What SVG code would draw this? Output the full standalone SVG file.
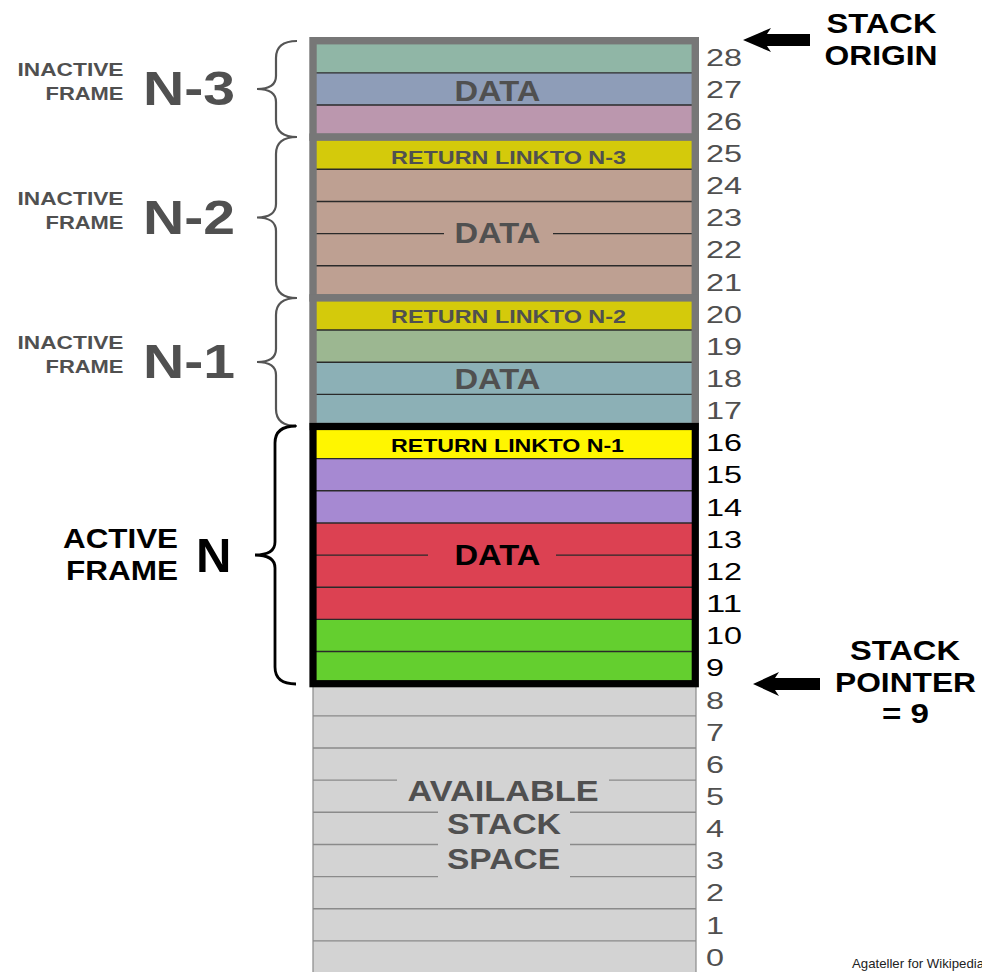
<svg xmlns="http://www.w3.org/2000/svg" width="982" height="972" viewBox="0 0 982 972">
<style>
text{font-family:"Liberation Sans",Arial,Helvetica,sans-serif}
.g{fill:#505050}
.k{fill:#000}
.num{font-size:24px}
.sep{stroke:#2a2a2a;stroke-width:1.4}
.asep{stroke:#8a8a8a;stroke-width:1.4}
.gframe{fill:none;stroke:#777;stroke-width:7.4}
.aframe{fill:none;stroke:#000;stroke-width:7.2}
.brace{fill:none;stroke:#555;stroke-width:2.2}
.abrace{fill:none;stroke:#000;stroke-width:2.8}
.data{font-size:29px;font-weight:bold;text-anchor:middle}
.rl{font-size:19px;font-weight:bold}
.lab{font-size:19px;font-weight:bold;text-anchor:end}
.alab{font-size:27px;font-weight:bold;text-anchor:end}
.big{font-size:48px;font-weight:bold}
.avail{font-size:29px;font-weight:bold;text-anchor:middle}
.side{font-size:28px;font-weight:bold;fill:#000}
.arrow{fill:#000}
</style>

<g id="frame-n3">
<rect x="313" y="40.7" width="382.3" height="32.15" fill="#90b6a6"/>
<rect x="313" y="72.85" width="382.3" height="32.15" fill="#8e9db8"/>
<rect x="313" y="105" width="382.3" height="32.15" fill="#bb97ae"/>
<line class="sep" x1="313" y1="72.85" x2="695" y2="72.85"/>
<line class="sep" x1="313" y1="105" x2="695" y2="105"/>
<text class="data g" x="497.5" y="100.7" textLength="86" lengthAdjust="spacingAndGlyphs">DATA</text>
<rect class="gframe" x="313" y="40.7" width="382.3" height="96.45"/>
<path class="brace" d="M297,41 C284,41 276,46 276,58 L276,76 C276,84 270,89 257,89 C270,89 276,94 276,102 L276,120 C276,132 284,137 297,137"/>
<text class="lab g" x="123.5" y="76" textLength="106" lengthAdjust="spacingAndGlyphs">INACTIVE</text>
<text class="lab g" x="123.5" y="100" textLength="78" lengthAdjust="spacingAndGlyphs">FRAME</text>
<text class="big g" x="143" y="105" textLength="92" lengthAdjust="spacingAndGlyphs">N-3</text>
</g>

<g id="frame-n2">
<rect x="313" y="137.15" width="382.3" height="32.15" fill="#d4ca0b"/>
<rect x="313" y="169.3" width="382.3" height="128.6" fill="#bea092"/>
<line class="sep" x1="313" y1="169.3" x2="695" y2="169.3"/>
<line class="sep" x1="313" y1="201.45" x2="695" y2="201.45"/>
<line class="sep" x1="313" y1="233.6" x2="444" y2="233.6"/>
<line class="sep" x1="553" y1="233.6" x2="695" y2="233.6"/>
<line class="sep" x1="313" y1="265.75" x2="695" y2="265.75"/>
<text class="rl g" x="391" y="164" textLength="235" lengthAdjust="spacingAndGlyphs">RETURN LINK <tspan dx="-5">TO N-3</tspan></text>
<text class="data g" x="497.5" y="243" textLength="86" lengthAdjust="spacingAndGlyphs">DATA</text>
<rect class="gframe" x="313" y="137.15" width="382.3" height="160.75"/>
<path class="brace" d="M297,137 C284,137 276,142 276,154 L276,204 C276,212 270,217.5 257,217.5 C270,217.5 276,223 276,231 L276,281 C276,293 284,298 297,298"/>
<text class="lab g" x="123.5" y="204.5" textLength="106" lengthAdjust="spacingAndGlyphs">INACTIVE</text>
<text class="lab g" x="123.5" y="228.5" textLength="78" lengthAdjust="spacingAndGlyphs">FRAME</text>
<text class="big g" x="143" y="233.5" textLength="92" lengthAdjust="spacingAndGlyphs">N-2</text>
</g>

<g id="frame-n1">
<rect x="313" y="297.9" width="382.3" height="32.15" fill="#d4ca0b"/>
<rect x="313" y="330.05" width="382.3" height="32.15" fill="#9cb791"/>
<rect x="313" y="362.2" width="382.3" height="64.3" fill="#8cb0b6"/>
<line class="sep" x1="313" y1="330.05" x2="695" y2="330.05"/>
<line class="sep" x1="313" y1="362.2" x2="695" y2="362.2"/>
<line class="sep" x1="313" y1="394.35" x2="695" y2="394.35"/>
<text class="rl g" x="391" y="323.3" textLength="235" lengthAdjust="spacingAndGlyphs">RETURN LINK <tspan dx="-5">TO N-2</tspan></text>
<text class="data g" x="497.5" y="389.3" textLength="86" lengthAdjust="spacingAndGlyphs">DATA</text>
<rect class="gframe" x="313" y="297.9" width="382.3" height="128.6"/>
<path class="brace" d="M297,298 C284,298 276,303 276,315 L276,349 C276,357 270,362 257,362 C270,362 276,367 276,375 L276,409 C276,421 284,426 297,426"/>
<text class="lab g" x="123.5" y="349" textLength="106" lengthAdjust="spacingAndGlyphs">INACTIVE</text>
<text class="lab g" x="123.5" y="373" textLength="78" lengthAdjust="spacingAndGlyphs">FRAME</text>
<text class="big g" x="143" y="378" textLength="92" lengthAdjust="spacingAndGlyphs">N-1</text>
</g>

<g id="available">
<rect x="313" y="683.7" width="383" height="295" fill="#d3d3d3" stroke="#8a8a8a" stroke-width="1.2"/>
<line class="asep" x1="313" y1="715.85" x2="696" y2="715.85"/>
<line class="asep" x1="313" y1="748" x2="696" y2="748"/>
<line class="asep" x1="313" y1="780.15" x2="397" y2="780.15"/>
<line class="asep" x1="609" y1="780.15" x2="696" y2="780.15"/>
<line class="asep" x1="313" y1="812.3" x2="438" y2="812.3"/>
<line class="asep" x1="570" y1="812.3" x2="696" y2="812.3"/>
<line class="asep" x1="313" y1="844.45" x2="438" y2="844.45"/>
<line class="asep" x1="570" y1="844.45" x2="696" y2="844.45"/>
<line class="asep" x1="313" y1="876.6" x2="438" y2="876.6"/>
<line class="asep" x1="570" y1="876.6" x2="696" y2="876.6"/>
<line class="asep" x1="313" y1="908.75" x2="696" y2="908.75"/>
<line class="asep" x1="313" y1="940.9" x2="696" y2="940.9"/>
<text class="avail g" x="503" y="801" textLength="191" lengthAdjust="spacingAndGlyphs">AVAILABLE</text>
<text class="avail g" x="504" y="834.3" textLength="114" lengthAdjust="spacingAndGlyphs">STACK</text>
<text class="avail g" x="503.5" y="869.3" textLength="113" lengthAdjust="spacingAndGlyphs">SPACE</text>
</g>

<g id="frame-n">
<rect x="313" y="426.5" width="382.3" height="32.15" fill="#fff600"/>
<rect x="313" y="458.65" width="382.3" height="64.3" fill="#a689d2"/>
<rect x="313" y="522.95" width="382.3" height="96.45" fill="#dc4152"/>
<rect x="313" y="619.4" width="382.3" height="64.3" fill="#64cf2f"/>
<line class="sep" x1="313" y1="458.65" x2="695" y2="458.65"/>
<line class="sep" x1="313" y1="490.8" x2="695" y2="490.8"/>
<line class="sep" x1="313" y1="522.95" x2="695" y2="522.95"/>
<line class="sep" x1="313" y1="555.1" x2="428" y2="555.1"/>
<line class="sep" x1="556" y1="555.1" x2="695" y2="555.1"/>
<line class="sep" x1="313" y1="587.25" x2="695" y2="587.25"/>
<line class="sep" x1="313" y1="619.4" x2="695" y2="619.4"/>
<line class="sep" x1="313" y1="651.55" x2="695" y2="651.55"/>
<text class="rl k" x="391" y="451.7" textLength="233" lengthAdjust="spacingAndGlyphs">RETURN LINK <tspan dx="-5">TO N-1</tspan></text>
<text class="data k" x="497.5" y="564.5" textLength="86" lengthAdjust="spacingAndGlyphs">DATA</text>
<rect class="aframe" x="313" y="426.5" width="382.3" height="257.2"/>
<path class="abrace" d="M296,426 C283,426 275,431 275,443 L275,542 C275,550 269,555 255,555 C269,555 275,560 275,568 L275,667 C275,679 283,684 296,684"/>
<text class="alab k" x="178" y="548" textLength="115" lengthAdjust="spacingAndGlyphs">ACTIVE</text>
<text class="alab k" x="178" y="580" textLength="112" lengthAdjust="spacingAndGlyphs">FRAME</text>
<text class="k" x="196" y="572" font-size="49" font-weight="bold">N</text>
</g>

<g id="addresses" class="num">
<text class="g" x="706" y="65.5" textLength="36" lengthAdjust="spacingAndGlyphs">28</text>
<text class="g" x="706" y="97.6" textLength="36" lengthAdjust="spacingAndGlyphs">27</text>
<text class="g" x="706" y="129.8" textLength="36" lengthAdjust="spacingAndGlyphs">26</text>
<text class="g" x="706" y="161.9" textLength="36" lengthAdjust="spacingAndGlyphs">25</text>
<text class="g" x="706" y="194.1" textLength="36" lengthAdjust="spacingAndGlyphs">24</text>
<text class="g" x="706" y="226.2" textLength="36" lengthAdjust="spacingAndGlyphs">23</text>
<text class="g" x="706" y="258.4" textLength="36" lengthAdjust="spacingAndGlyphs">22</text>
<text class="g" x="706" y="290.5" textLength="36" lengthAdjust="spacingAndGlyphs">21</text>
<text class="g" x="706" y="322.7" textLength="36" lengthAdjust="spacingAndGlyphs">20</text>
<text class="g" x="706" y="354.8" textLength="36" lengthAdjust="spacingAndGlyphs">19</text>
<text class="g" x="706" y="387" textLength="36" lengthAdjust="spacingAndGlyphs">18</text>
<text class="g" x="706" y="419.1" textLength="36" lengthAdjust="spacingAndGlyphs">17</text>
<text class="k" x="706" y="451.3" textLength="36" lengthAdjust="spacingAndGlyphs">16</text>
<text class="k" x="706" y="483.4" textLength="36" lengthAdjust="spacingAndGlyphs">15</text>
<text class="k" x="706" y="515.6" textLength="36" lengthAdjust="spacingAndGlyphs">14</text>
<text class="k" x="706" y="547.7" textLength="36" lengthAdjust="spacingAndGlyphs">13</text>
<text class="k" x="706" y="579.9" textLength="36" lengthAdjust="spacingAndGlyphs">12</text>
<text class="k" x="706" y="612" textLength="36" lengthAdjust="spacingAndGlyphs">11</text>
<text class="k" x="706" y="644.2" textLength="36" lengthAdjust="spacingAndGlyphs">10</text>
<text class="k" x="706" y="676.3" textLength="18" lengthAdjust="spacingAndGlyphs">9</text>
<text class="g" x="706" y="708.5" textLength="18" lengthAdjust="spacingAndGlyphs">8</text>
<text class="g" x="706" y="740.6" textLength="18" lengthAdjust="spacingAndGlyphs">7</text>
<text class="g" x="706" y="772.8" textLength="18" lengthAdjust="spacingAndGlyphs">6</text>
<text class="g" x="706" y="804.9" textLength="18" lengthAdjust="spacingAndGlyphs">5</text>
<text class="g" x="706" y="837.1" textLength="18" lengthAdjust="spacingAndGlyphs">4</text>
<text class="g" x="706" y="869.2" textLength="18" lengthAdjust="spacingAndGlyphs">3</text>
<text class="g" x="706" y="901.4" textLength="18" lengthAdjust="spacingAndGlyphs">2</text>
<text class="g" x="706" y="933.5" textLength="18" lengthAdjust="spacingAndGlyphs">1</text>
<text class="g" x="706" y="965.7" textLength="18" lengthAdjust="spacingAndGlyphs">0</text>
</g>

<g id="connectors">
<polygon class="arrow" points="743,40 771,28 767,34 810,34 810,46 767,46 771,52"/>
<polygon class="arrow" points="753,684 779,672 775,678 820,678 820,690 775,690 779,696"/>
</g>

<g id="stack-origin">
<text class="side" x="826.5" y="33.3" textLength="110" lengthAdjust="spacingAndGlyphs">STACK</text>
<text class="side" x="824.5" y="65" textLength="113" lengthAdjust="spacingAndGlyphs">ORIGIN</text>
</g>

<g id="stack-pointer">
<text class="side" x="850" y="660" textLength="110" lengthAdjust="spacingAndGlyphs">STACK</text>
<text class="side" x="835" y="691.7" textLength="141" lengthAdjust="spacingAndGlyphs">POINTER</text>
<text class="side" x="882" y="723" textLength="47" lengthAdjust="spacingAndGlyphs">= 9</text>
</g>

<text x="852" y="968" font-size="13" fill="#222" textLength="132" lengthAdjust="spacingAndGlyphs">Agateller for Wikipedia</text>
</svg>
